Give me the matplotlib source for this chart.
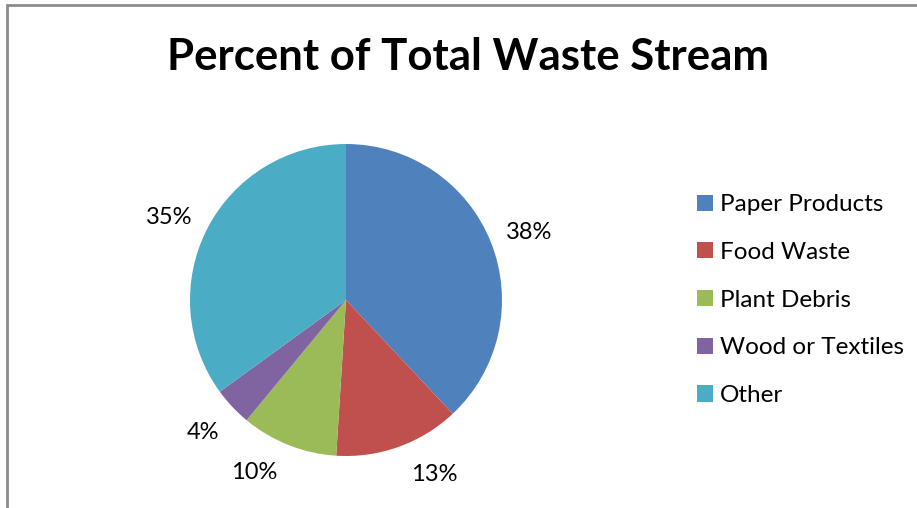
import numpy as np
import matplotlib
matplotlib.use("Agg")
import matplotlib.pyplot as plt
from matplotlib.patches import Patch, Rectangle

categories = ["Paper Products", "Food Waste", "Plant Debris", "Wood or Textiles", "Other"]
percentages = [38, 13, 10, 4, 35]
colors = ["#4F81BD", "#C0504D", "#9BBB59", "#8064A2", "#4BACC6"]
title = "Percent of Total Waste Stream"

# best-fit nudges (degrees) for the outside labels
label_angle_shift = [-1.5, 7, -6.5, -0.5, 2]
label_radius = 1.25

plt.rcParams["font.family"] = ["Lato", "DejaVu Sans"]

W, H = 917, 508
fig = plt.figure(figsize=(W / 100, H / 100), dpi=100)
fig.patch.set_facecolor("white")

# chart-area frame (runs off the right and bottom edges)
fig.patches.append(Rectangle((7 / W, -0.05), 1.1, (H - 5) / H + 0.05,
                             transform=fig.transFigure, fill=False,
                             edgecolor="#8C8C8C", linewidth=2))

cx, cy, r = 346, 300, 156
ax = fig.add_axes([(cx - r) / W, (H - cy - r) / H, 2 * r / W, 2 * r / H])
wedges, _ = ax.pie(percentages, colors=colors, startangle=90,
                   counterclock=False, wedgeprops=dict(linewidth=0))
ax.set_xlim(-1, 1)
ax.set_ylim(-1, 1)
ax.set_aspect("equal")
ax.axis("off")

for w, pct, shift in zip(wedges, percentages, label_angle_shift):
    ang = np.deg2rad((w.theta1 + w.theta2) / 2 + shift)
    ax.text(label_radius * np.cos(ang), label_radius * np.sin(ang), f"{pct}%",
            ha="center", va="center", fontsize=17, clip_on=False)

fig.text(468 / W, 1 - 57 / H, title, ha="center", va="center",
         fontsize=31.5, fontweight="bold")

handles = [Patch(facecolor=c, edgecolor="none") for c in colors]
fig.legend(handles, categories, loc="upper left",
           bbox_to_anchor=(685 / W, 1 - 182 / H), frameon=False,
           fontsize=17.5, handlelength=0.65, handleheight=0.65,
           handletextpad=0.3, labelspacing=1.1, borderpad=0)

fig.savefig("out.png", dpi=100, facecolor="white")
